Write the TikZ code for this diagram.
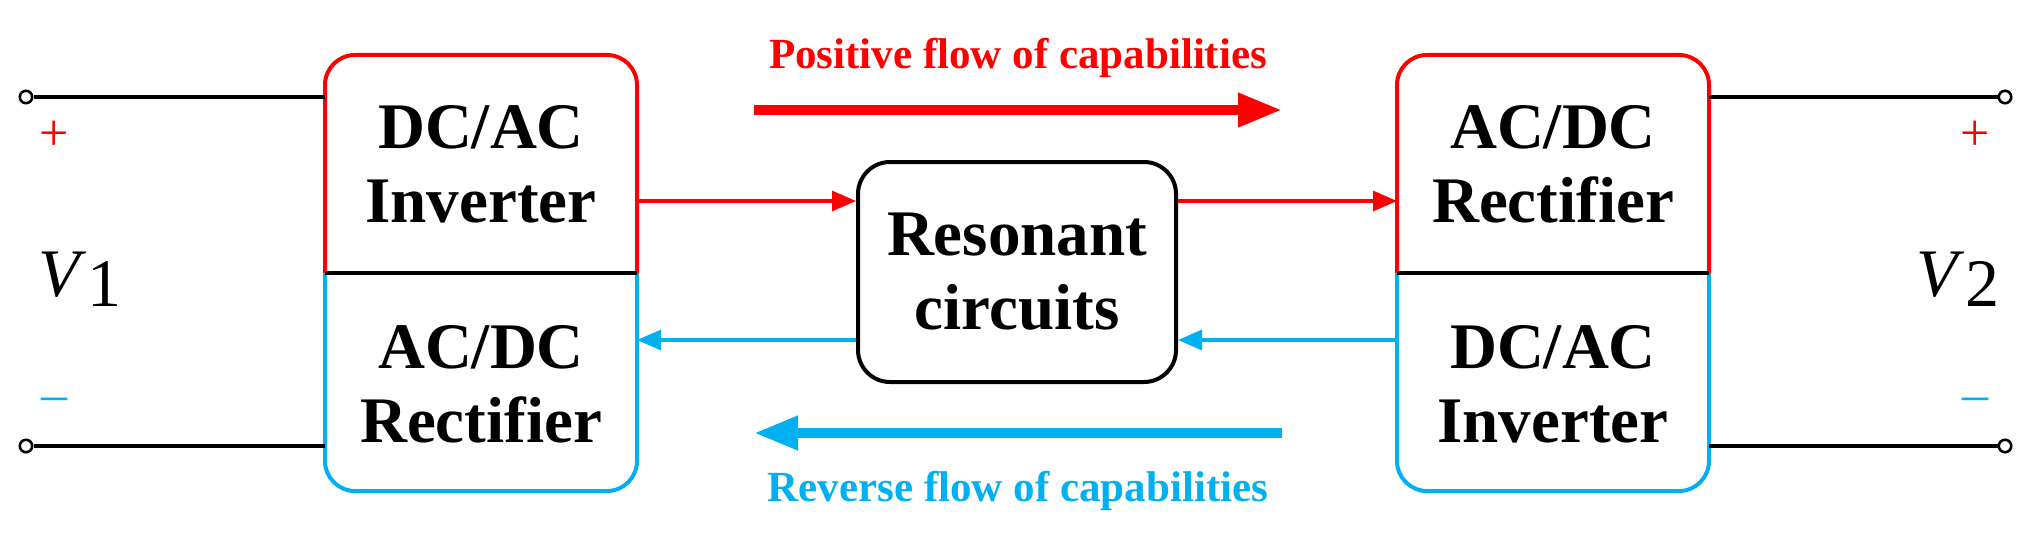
\documentclass[tikz,border=0pt]{standalone}
\usepackage{fontspec}
\setmainfont{Liberation Serif}
\usetikzlibrary{arrows.meta}
\definecolor{pr}{RGB}{255,0,0}
\definecolor{pb}{RGB}{0,176,240}
\begin{document}
\begin{tikzpicture}[x=0.5pt,y=-0.5pt,
 blk/.style={font=\fontsize{32.5}{37}\selectfont\bfseries,align=center},
 lab/.style={font=\fontsize{21.5}{24}\selectfont\bfseries},
 wire/.style={line width=1.6pt},
 edge/.style={line width=2pt,rounded corners=15pt},
 thin/.style={line width=1.6pt,-{Triangle[length=12pt,width=10pt]}},
 big/.style={line width=5pt,-{Triangle[length=22pt,width=16pt]}},
 term/.style={circle,draw,line width=1.3pt,fill=white,inner sep=2.2pt},
 sgn/.style={font=\fontsize{26}{28}\selectfont}]
\useasboundingbox (0,0) rectangle (2037,535);
% left converter
\draw[edge,pr] (325,273) -- (325,55) -- (637,55) -- (637,273);
\draw[edge,pb] (325,273) -- (325,491) -- (637,491) -- (637,273);
\draw[wire] (325,273) -- (637,273);
\node[blk] (l1) at (481,164) {DC/AC\\Inverter};
\node[blk] (l2) at (481,384) {AC/DC\\Rectifier};
% right converter
\draw[edge,pr] (1397,273) -- (1397,55) -- (1709,55) -- (1709,273);
\draw[edge,pb] (1397,273) -- (1397,491) -- (1709,491) -- (1709,273);
\draw[wire] (1397,273) -- (1709,273);
\node[blk] (r1) at (1553,164) {AC/DC\\Rectifier};
\node[blk] (r2) at (1553,384) {DC/AC\\Inverter};
% resonant
\node[blk,draw,line width=2pt,rounded corners=16pt,minimum width=159pt,minimum height=110pt] (res) at (1017,272) {Resonant\\circuits};
% terminals
\node[term] (t1) at (26,97) {};
\node[term] (t2) at (26,446) {};
\node[term] (t3) at (2005,97) {};
\node[term] (t4) at (2005,446) {};
\coordinate (a1) at (325,97); \coordinate (a2) at (325,446);
\coordinate (a3) at (1709,97); \coordinate (a4) at (1709,446);
\draw[wire] (t1) -- (a1); \draw[wire] (t2) -- (a2);
\draw[wire] (a3) -- (t3); \draw[wire] (a4) -- (t4);
\node[sgn,text=pr] (p1) at (54,136) {+};
\node[sgn,text=pb] (m1) at (54,405) {\textendash};
\node[sgn,text=pr] (p2) at (1975,136) {+};
\node[sgn,text=pb] (m2) at (1975,405) {\textendash};
\node[font=\fontsize{34}{36}\selectfont] (v1) at (80,279) {\textit{V}\raisebox{-5pt}{1}};
\node[font=\fontsize{34}{36}\selectfont] (v2) at (1958,279) {\textit{V}\raisebox{-5pt}{2}};
% thin arrows
\coordinate (lo) at (637,201); \coordinate (li) at (637,340);
\coordinate (ro) at (1397,201); \coordinate (ri) at (1397,340);
\draw[thin,pr] (lo) -- (res.west|-lo);
\draw[thin,pr] (res.east|-lo) -- (ro);
\draw[thin,pb] (res.west|-li) -- (li);
\draw[thin,pb] (ri) -- (res.east|-li);
% big arrows
\coordinate (b1) at (754,110); \coordinate (b2) at (1282,110);
\coordinate (b3) at (1282,433); \coordinate (b4) at (754,433);
\draw[big,pr] (b1) -- (b2);
\draw[big,pb] (b3) -- (b4);
\node[lab,text=pr] (tp) at (1018,58) {Positive flow of capabilities};
\node[lab,text=pb] (tr) at (1018,491) {Reverse flow of capabilities};
\end{tikzpicture}
\end{document}
